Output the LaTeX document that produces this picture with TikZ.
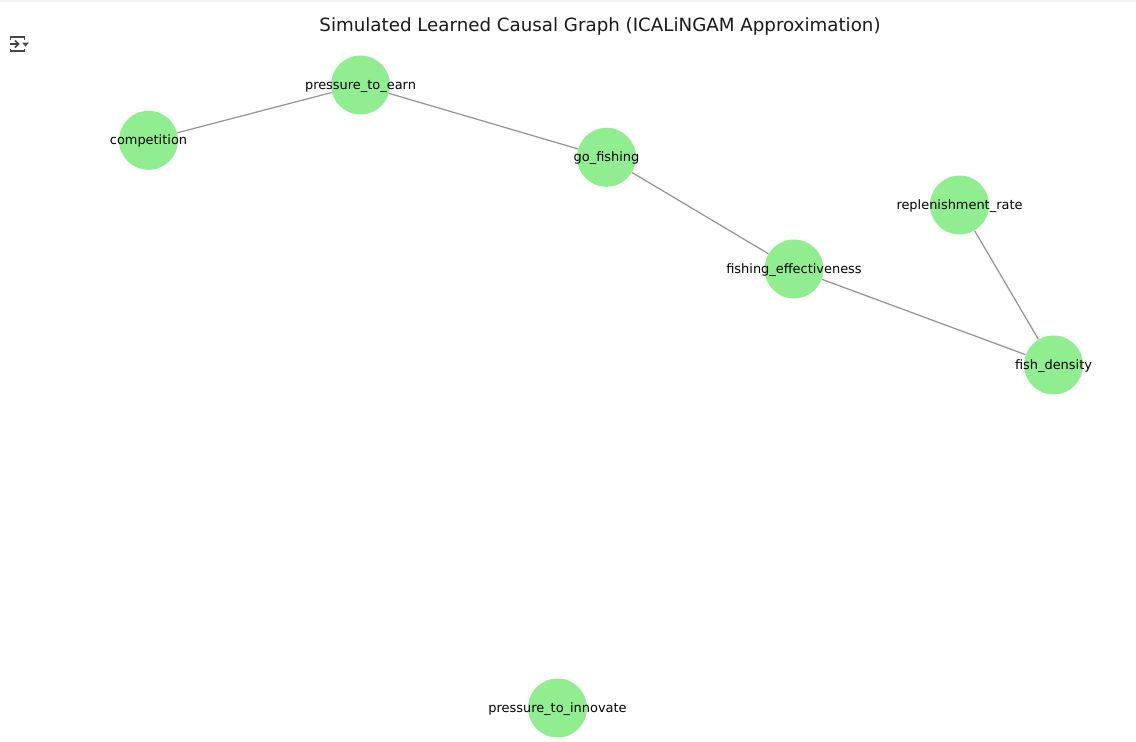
\documentclass[tikz,border=0pt]{standalone}
\usepackage{fontspec}
\setmainfont{DejaVu Sans}
\definecolor{cN}{HTML}{90EE90}
\definecolor{cE}{HTML}{949494}
\definecolor{cI}{HTML}{444746}
\definecolor{cT}{HTML}{F1F1F1}
\tikzset{
  var/.style={circle,fill=cN,inner sep=0pt,minimum size=1.18cm,font=\fontsize{7.36}{9}\selectfont,text=black},
  link/.style={cE,line width=0.7pt},
  ttl/.style={inner sep=0pt,font=\fontsize{10.38}{12}\selectfont,text=black!90},
  ico/.style={cI,line width=0.85pt},
}
\newcommand{\vlabel}[1]{\makebox[0pt]{\raisebox{-2.55pt}[0pt][0pt]{#1}}}
\begin{document}
\begin{tikzpicture}[x=0.02cm,y=-0.02cm]
  \useasboundingbox (0,0) rectangle (1136,741);
  \fill[cT] (0,0) rectangle (1136,1.5);
  \node[ttl](title) at (600,26.5){Simulated Learned Causal Graph (ICALiNGAM Approximation)};
  \node[var](comp) at (148.5,140.3){\vlabel{competition}};
  \node[var](earn) at (360.5,85){\vlabel{pressure\_to\_earn}};
  \node[var](fishing) at (606.5,157.3){\vlabel{go\_fishing}};
  \node[var](effect) at (794,269){\vlabel{fishing\_effectiveness}};
  \node[var](replen) at (959.5,205){\vlabel{replenishment\_rate}};
  \node[var](density) at (1053.5,365){\vlabel{fish\_density}};
  \node[var](innov) at (557.5,708){\vlabel{pressure\_to\_innovate}};
  \foreach \a/\b in {comp/earn,earn/fishing,fishing/effect,effect/density,replen/density}{
     \draw[link] (\a) -- (\b);}
  % output toggle icon
  \draw[ico] (10.5,40) -- (10.5,37) -- (24.5,37) -- (24.5,40);
  \draw[ico] (10.5,48.5) -- (10.5,51) -- (24.5,51) -- (24.5,48.5);
  \draw[ico] (9.5,44) -- (18.5,44);
  \draw[ico] (15,40.5) -- (18.5,44) -- (15,47.5);
  \fill[cI] (22,42.5) -- (29,42.5) -- (25.5,46.5) -- cycle;
\end{tikzpicture}
\end{document}
